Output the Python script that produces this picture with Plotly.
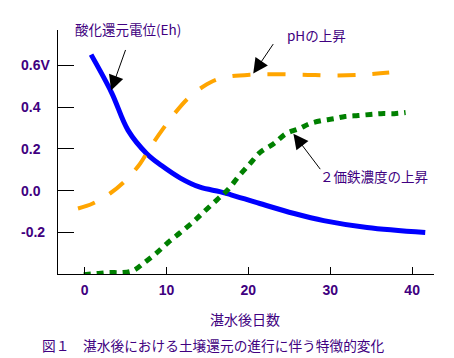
import plotly.graph_objects as go

# --- data ---
eh_days = [0.8, 3.3, 5.3, 7.6, 9.4, 11.7, 14.1, 16.5, 17.8, 21.4, 25.6, 29.2, 34.5, 41.6]
eh_vals = [0.652, 0.47, 0.29, 0.177, 0.12, 0.06, 0.016, -0.005, -0.019, -0.062, -0.110, -0.144, -0.177, -0.201]

ph_days = [-0.8, 1.0, 3.1, 5.0, 6.8, 8.0, 9.6, 10.8, 12.6, 14.5, 16.5, 20.2, 26.3, 30.2, 33.9, 37.2]
ph_vals = [-0.086, -0.062, -0.014, 0.048, 0.130, 0.206, 0.297, 0.360, 0.441, 0.499, 0.537, 0.556, 0.556, 0.552, 0.556, 0.566]

fe_days = [-0.1, 1.5, 2.9, 4.5, 5.9, 7.3, 8.7, 10.2, 11.7, 13.3, 14.6, 16.2, 17.4, 18.9, 20.2, 21.4,
           23.1, 24.6, 26.2, 27.5, 29.0, 30.5, 31.8, 33.4, 34.9, 36.2, 37.8, 39.2]
fe_vals = [-0.403, -0.398, -0.393, -0.393, -0.384, -0.345, -0.302, -0.249, -0.201, -0.149, -0.101, -0.043,
           0.0, 0.072, 0.129, 0.182, 0.225, 0.273, 0.297, 0.321, 0.336, 0.345, 0.355, 0.360, 0.365, 0.369,
           0.369, 0.374]

x_ticks = [0, 10, 20, 30, 40]
y_ticks = [0.6, 0.4, 0.2, 0.0, -0.2]
y_tick_labels = ["0.6V", "0.4", "0.2", "0.0", "-0.2"]

label_eh = "酸化還元電位(Eh)"
label_ph = "pHの上昇"
label_fe = "２価鉄濃度の上昇"
x_title = "湛水後日数"
caption = "図１　湛水後における土壌還元の進行に伴う特徴的変化"

TXT = "#400080"
CJK = "Noto Sans CJK JP"
NUM = "Liberation Sans"

fig = go.Figure()
fig.add_trace(go.Scatter(x=eh_days, y=eh_vals, mode="lines", line=dict(color="#0000FF", width=5, shape="spline"),
                         cliponaxis=False, showlegend=False))
fig.add_trace(go.Scatter(x=ph_days, y=ph_vals, mode="lines",
                         line=dict(color="#FFA500", width=4, dash="18px,17px", shape="spline"),
                         cliponaxis=False, showlegend=False))
fig.add_trace(go.Scatter(x=fe_days, y=fe_vals, mode="lines",
                         line=dict(color="#008000", width=5, dash="7px,6px", shape="spline"),
                         cliponaxis=False, showlegend=False))

annotations = []
for v, t in zip(y_ticks, y_tick_labels):
    annotations.append(dict(x=-0.1037, xref="paper", y=v, yref="y", text=t, showarrow=False,
                            xanchor="left", yanchor="middle",
                            font=dict(family=NUM, size=14, color=TXT, weight="bold")))

annotations += [
    dict(x=0.040, y=1.006, xref="paper", yref="paper", text=label_eh, showarrow=False,
         xanchor="left", yanchor="middle", font=dict(family=CJK, size=13.5, color=TXT)),
    dict(x=0.604, y=0.980, xref="paper", yref="paper", text=label_ph, showarrow=False,
         xanchor="left", yanchor="middle", font=dict(family=CJK, size=13.5, color=TXT)),
    dict(x=0.691, y=0.402, xref="paper", yref="paper", text=label_fe, showarrow=False,
         xanchor="left", yanchor="middle", font=dict(family=CJK, size=13.5, color=TXT)),
    dict(x=0.497, y=-0.184, xref="paper", yref="paper", text=x_title, showarrow=False,
         xanchor="center", yanchor="middle", font=dict(family=CJK, size=14, color=TXT)),
    dict(x=-0.0479, y=-0.291, xref="paper", yref="paper", text=caption, showarrow=False,
         xanchor="left", yanchor="middle", font=dict(family=CJK, size=13.7, color=TXT)),
    # arrows
    dict(x=3.24, y=0.48, xref="x", yref="y", text="", showarrow=True, ax=15, ay=-42,
         arrowhead=2, arrowsize=3, arrowwidth=1, arrowcolor="black", standoff=0),
    dict(x=20.6, y=0.561, xref="x", yref="y", text="", showarrow=True, ax=21, ay=-31,
         arrowhead=2, arrowsize=3, arrowwidth=1, arrowcolor="black", standoff=0),
    dict(x=25.5, y=0.273, xref="x", yref="y", text="", showarrow=True, ax=28, ay=37,
         arrowhead=2, arrowsize=3, arrowwidth=1, arrowcolor="black", standoff=0),
]

fig.update_layout(
    width=454, height=358,
    margin=dict(l=58, r=20, t=30, b=84),
    paper_bgcolor="white", plot_bgcolor="white",
    showlegend=False,
    annotations=annotations,
    xaxis=dict(range=[-3.24, 42.67], tickvals=x_ticks, ticks="inside", ticklen=7, tickwidth=1,
               tickcolor="black", showline=True, linecolor="black", linewidth=1,
               showgrid=False, zeroline=False, fixedrange=True, ticklabelstandoff=3,
               tickfont=dict(family=NUM, size=14, color=TXT, weight="bold")),
    yaxis=dict(range=[-0.4, 0.77], tickvals=y_ticks, ticks="inside", ticklen=16, tickwidth=1,
               tickcolor="black", showline=True, linecolor="black", linewidth=1,
               showgrid=False, zeroline=False, showticklabels=False, fixedrange=True),
)

fig.write_html("out.html", config={"displayModeBar": False},
               post_script="document.body.style.margin='0px';document.body.style.overflow='hidden';")
